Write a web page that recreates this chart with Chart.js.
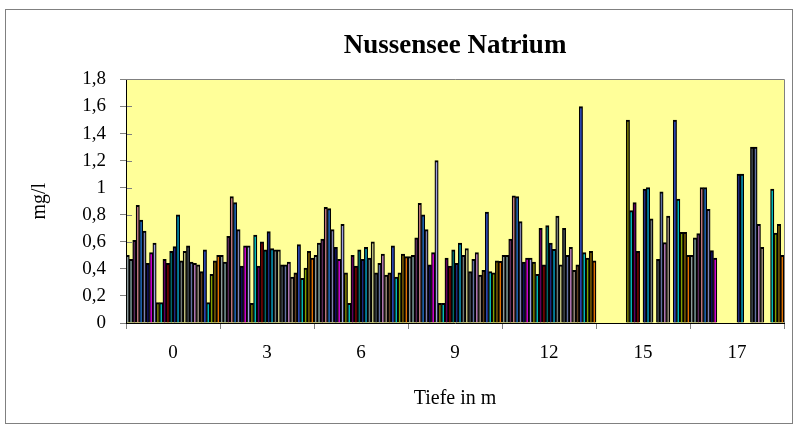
<!DOCTYPE html>
<html>
<head>
<meta charset="utf-8">
<script src="https://cdn.jsdelivr.net/npm/chart.js@4.4.0/dist/chart.umd.min.js"></script>
<style>
  html, body { margin: 0; padding: 0; background: #fff; }
</style>
</head>
<body>
<canvas id="myChart" width="795" height="427"></canvas>
<script>
// depth categories (m)
const depths = ['0', '3', '6', '9', '12', '15', '17'];

// sodium in mg/l, one value per sampling series (28 series) at each depth
const tiefe0 = [0.50, 0.47, 0.61, 0.87, 0.76, 0.68, 0.44, 0.52, 0.59, 0.15, 0.15, 0.47, 0.44, 0.53, 0.565, 0.80, 0.46, 0.53, 0.57, 0.45, 0.44, 0.43, 0.38, 0.54, 0.15, 0.36, 0.46, 0.50];
const tiefe3 = [0.50, 0.45, 0.64, 0.935, 0.89, 0.69, 0.42, 0.57, 0.57, 0.145, 0.65, 0.42, 0.60, 0.54, 0.675, 0.55, 0.54, 0.54, 0.43, 0.43, 0.45, 0.34, 0.37, 0.58, 0.33, 0.405, 0.53, 0.48];
const tiefe6 = [0.50, 0.59, 0.62, 0.855, 0.845, 0.69, 0.56, 0.47, 0.73, 0.37, 0.145, 0.50, 0.42, 0.54, 0.47, 0.56, 0.48, 0.60, 0.37, 0.44, 0.51, 0.355, 0.37, 0.57, 0.34, 0.37, 0.51, 0.49];
const tiefe9 = [0.49, 0.50, 0.63, 0.885, 0.80, 0.69, 0.43, 0.52, 1.20, 0.145, 0.145, 0.48, 0.42, 0.54, 0.44, 0.59, 0.50, 0.55, 0.38, 0.47, 0.52, 0.355, 0.39, 0.82, 0.38, 0.37, 0.46, 0.455];
const tiefe12 = [0.50, 0.50, 0.62, 0.94, 0.935, 0.75, 0.45, 0.48, 0.48, 0.45, 0.36, 0.70, 0.43, 0.72, 0.59, 0.545, 0.79, 0.43, 0.70, 0.50, 0.56, 0.39, 0.43, 1.60, 0.52, 0.48, 0.53, 0.46];
const tiefe15 = [null, null, null, null, null, null, null, null, null, 1.50, 0.83, 0.89, 0.53, null, 0.99, 1.00, 0.77, null, 0.47, 0.97, 0.595, 0.79, null, 1.50, 0.915, 0.67, 0.67, 0.50];
const tiefe17 = [0.50, 0.63, 0.66, 1.00, 1.00, 0.84, 0.535, 0.48, null, null, null, null, null, null, 1.10, 1.10, null, null, 1.30, 1.30, 0.73, 0.56, null, null, 0.99, 0.665, 0.73, 0.50];

const yTicks = [0, 0.2, 0.4, 0.6, 0.8, 1, 1.2, 1.4, 1.6, 1.8];

const seriesColors = [
  '#8c9a9a', '#7fa0a0', '#5a2a5a', '#c07880', '#1e6ec8', '#8080b0', '#101060',
  '#e000e0', '#a0a0e0', '#808000', '#00c0c0', '#600060', '#800000', '#006868',
  '#202a80', '#00a0c8', '#707878', '#c0c080', '#404850', '#6070a0', '#c080c0',
  '#a09080', '#604020', '#3050d0', '#00c0c0', '#80a000', '#806000', '#e07000',
];

const depthRows = [tiefe0, tiefe3, tiefe6, tiefe9, tiefe12, tiefe15, tiefe17];
const serifFont = "'Liberation Serif', 'Times New Roman', serif";

const datasets = seriesColors.map((color, s) => ({
  label: 'Serie ' + (s + 1),
  data: depthRows.map((row) => row[s]),
  backgroundColor: color,
  borderColor: '#000000',
  borderWidth: { left: 1.3, right: 1.3, top: 2, bottom: 0 },
  categoryPercentage: 1,
  barPercentage: 1,
}));

const excelLook = {
  id: 'excelLook',
  beforeDraw(chart) {
    const ctx = chart.ctx;
    const a = chart.chartArea;
    ctx.save();
    ctx.fillStyle = '#ffffff';
    ctx.fillRect(0, 0, chart.width, chart.height);
    ctx.strokeStyle = '#808080';
    ctx.lineWidth = 1;
    ctx.strokeRect(5.5, 9.5, chart.width - 8, chart.height - 13);
    ctx.fillStyle = '#ffff99';
    ctx.fillRect(a.left, a.top, a.right - a.left, a.bottom - a.top);
    // tick marks reaching into the plot area
    const y = chart.scales.y;
    ctx.strokeStyle = '#808080';
    ctx.beginPath();
    yTicks.forEach((v) => {
      const py = Math.round(y.getPixelForValue(v)) + 0.5;
      ctx.moveTo(a.left, py);
      ctx.lineTo(a.left + 6, py);
    });
    ctx.stroke();
    ctx.restore();
  },
  afterDatasetsDraw(chart) {
    const ctx = chart.ctx;
    const a = chart.chartArea;
    ctx.save();
    ctx.strokeStyle = '#808080';
    ctx.lineWidth = 1;
    ctx.beginPath();
    ctx.moveTo(a.left, Math.round(a.top) + 0.5);
    ctx.lineTo(Math.round(a.right) + 0.5, Math.round(a.top) + 0.5);
    ctx.lineTo(Math.round(a.right) + 0.5, a.bottom);
    ctx.stroke();
    ctx.restore();
  },
};

const chartConfig = {
  type: 'bar',
  data: {
    labels: depths,
    datasets: datasets,
  },
  options: {
    responsive: false,
    animation: false,
    layout: {
      padding: { top: 10, left: 25, right: 11, bottom: 10 },
    },
    plugins: {
      legend: { display: false },
      tooltip: { enabled: false },
      title: {
        display: true,
        fullSize: false,
        text: 'Nussensee Natrium',
        color: '#000000',
        font: { family: serifFont, size: 27, weight: 'bold' },
        padding: { top: 20, bottom: 17 },
      },
    },
    scales: {
      x: {
        afterFit: (scale) => {
          scale.height = 94;
        },
        grid: {
          offset: true,
          drawOnChartArea: false,
          drawTicks: true,
          tickLength: 6,
          color: '#808080',
        },
        border: { color: '#000000', width: 1 },
        ticks: {
          color: '#000000',
          padding: 13,
          font: { family: serifFont, size: 19 },
        },
        title: {
          display: true,
          text: 'Tiefe in m',
          color: '#000000',
          font: { family: serifFont, size: 20 },
          padding: { top: 0, bottom: 6 },
        },
      },
      y: {
        min: 0,
        max: 1.8,
        afterFit: (scale) => {
          scale.width = 101;
        },
        afterBuildTicks: (scale) => {
          scale.ticks = yTicks.map((v) => ({ value: v }));
        },
        grid: {
          drawOnChartArea: false,
          drawTicks: true,
          tickLength: 6,
          color: '#808080',
        },
        border: { color: '#000000', width: 1 },
        ticks: {
          color: '#000000',
          padding: 14,
          font: { family: serifFont, size: 19 },
          callback: function (value) {
            return String(Number(value.toFixed(1))).replace('.', ',');
          },
        },
        title: {
          display: true,
          text: 'mg/l',
          color: '#000000',
          font: { family: serifFont, size: 20 },
          padding: { top: 3, bottom: 0 },
        },
      },
    },
  },
  plugins: [excelLook],
};

const ctx = document.getElementById('myChart');
const myChart = new Chart(ctx, chartConfig);
</script>
</body>
</html>
